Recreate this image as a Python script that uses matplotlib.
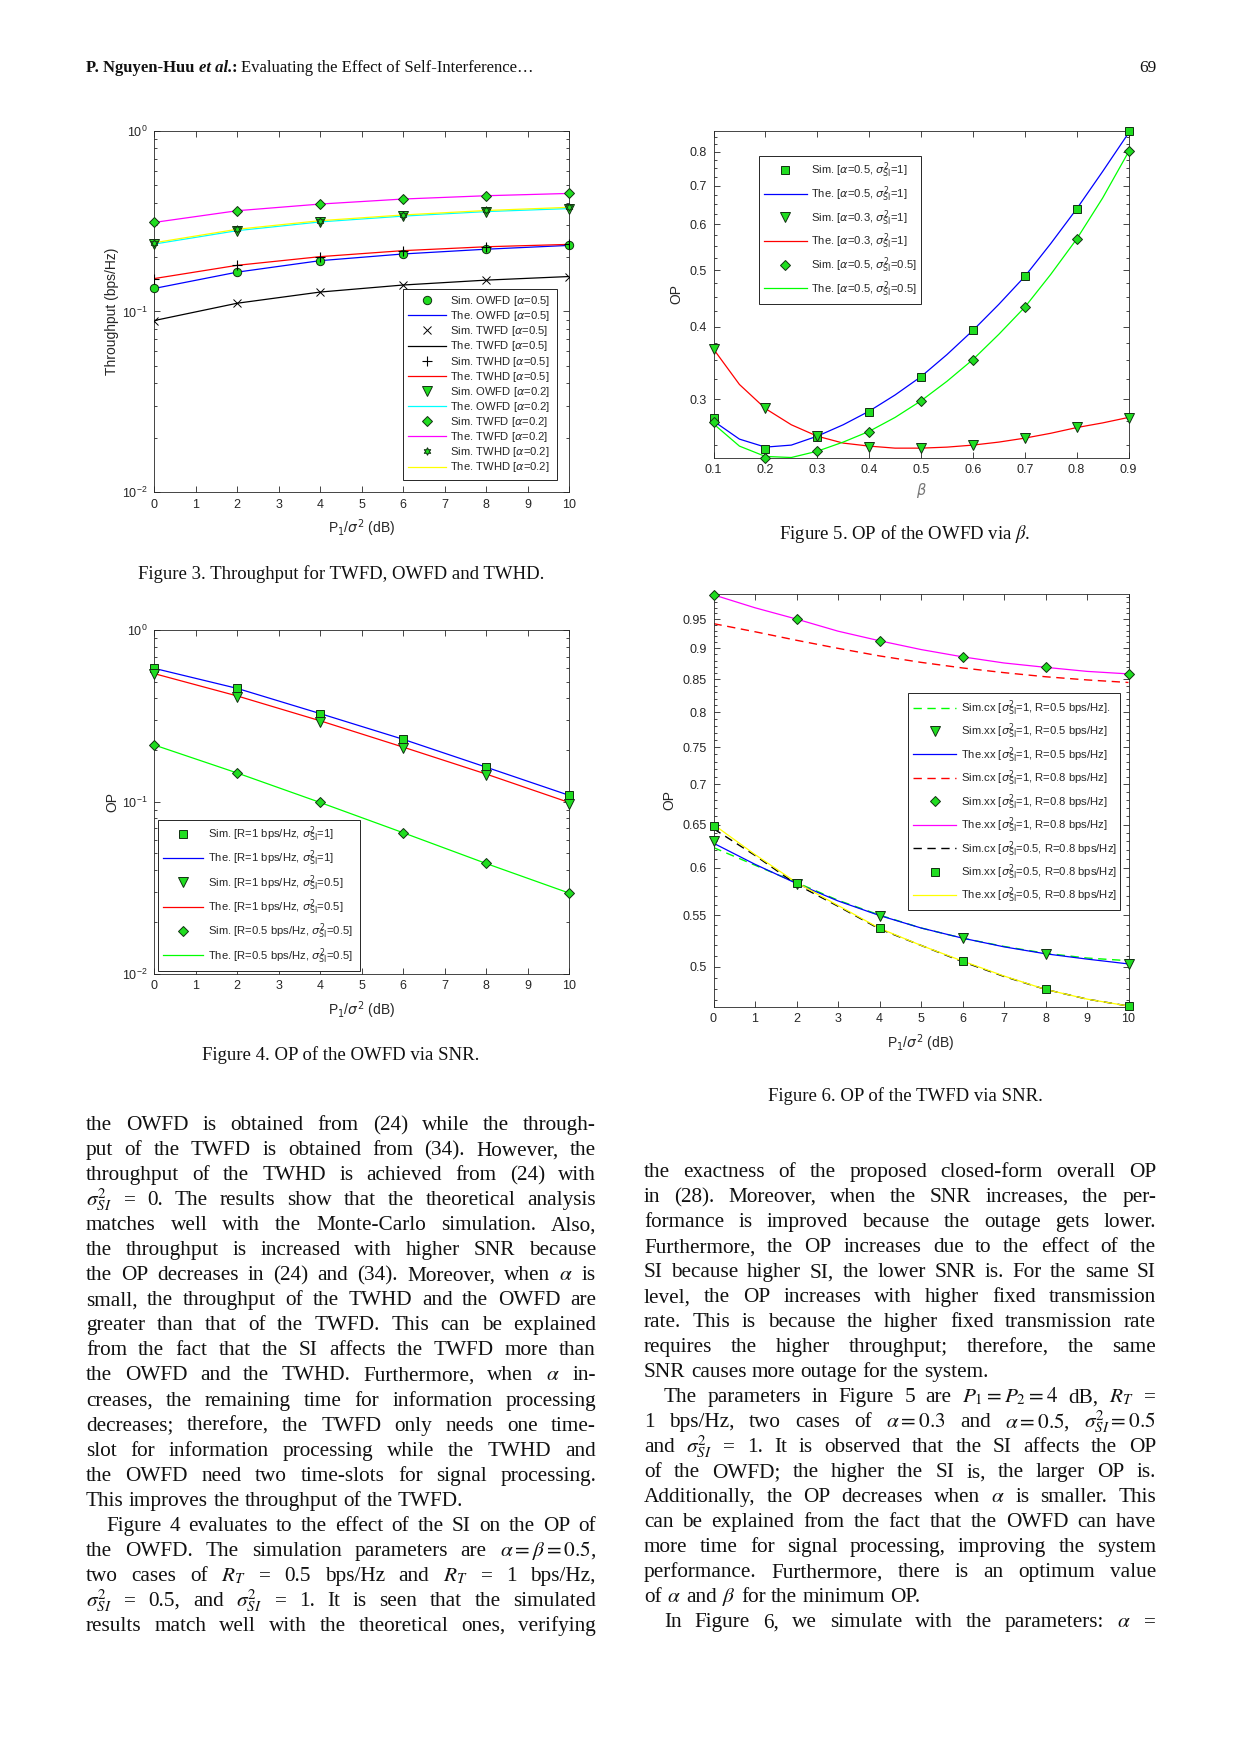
import matplotlib
matplotlib.use('Agg')
import matplotlib.pyplot as plt
from matplotlib.ticker import FixedLocator, NullFormatter, FormatStrFormatter
from matplotlib.font_manager import FontProperties

# ---- data ----
snr = [0, 2, 4, 6, 8, 10]
snr_fine = [0, 1, 2, 3, 4, 5, 6, 7, 8, 9, 10]
beta = [0.1, 0.2, 0.3, 0.4, 0.5, 0.6, 0.7, 0.8, 0.9]
beta_fine = [0.10, 0.15, 0.20, 0.25, 0.30, 0.35, 0.40, 0.45, 0.50,
             0.55, 0.60, 0.65, 0.70, 0.75, 0.80, 0.85, 0.90]

# figure 3: throughput
thr_owfd_05 = [0.134, 0.165, 0.191, 0.208, 0.221, 0.232]
thr_twfd_05 = [0.089, 0.111, 0.128, 0.140, 0.149, 0.156]
thr_twhd_05 = [0.152, 0.180, 0.201, 0.217, 0.228, 0.235]
thr_owfd_02 = [0.236, 0.280, 0.313, 0.337, 0.357, 0.371]
thr_twfd_02 = [0.311, 0.361, 0.393, 0.419, 0.437, 0.450]
thr_twhd_02 = [0.240, 0.285, 0.318, 0.342, 0.362, 0.377]

# figure 4: OP of the OWFD via SNR
op4_r1_s1 = [0.598, 0.457, 0.326, 0.231, 0.159, 0.109]
op4_r1_s05 = [0.552, 0.409, 0.292, 0.206, 0.143, 0.097]
op4_r1_s05_the = [0.557, 0.413, 0.296, 0.208, 0.145, 0.099]
op4_r05_s05 = [0.214, 0.147, 0.099, 0.066, 0.0437, 0.0294]

# figure 5: OP of the OWFD via beta
op5_sim_a05_s1 = [0.278, 0.246, 0.258, 0.285, 0.327, 0.394, 0.489, 0.638, 0.868]
op5_sim_a03_s1 = [0.366, 0.290, 0.259, 0.248, 0.247, 0.250, 0.257, 0.269, 0.278]
op5_sim_a05_s05 = [0.274, 0.238, 0.244, 0.263, 0.298, 0.351, 0.433, 0.566, 0.802]
op5_the_a05_s1 = [0.275, 0.256, 0.248, 0.250, 0.259, 0.271, 0.286, 0.305, 0.328,
                  0.358, 0.394, 0.437, 0.488, 0.556, 0.638, 0.740, 0.862]
op5_the_a03_s1 = [0.366, 0.318, 0.289, 0.271, 0.259, 0.252, 0.249, 0.247, 0.247,
                  0.248, 0.250, 0.253, 0.257, 0.262, 0.268, 0.273, 0.279]
op5_the_a05_s05 = [0.272, 0.249, 0.239, 0.238, 0.244, 0.253, 0.264, 0.279, 0.298,
                   0.322, 0.351, 0.388, 0.432, 0.492, 0.566, 0.666, 0.800]

# figure 6: OP of the TWFD via SNR
op6_cx_s1_r05 = [0.623, 0.603, 0.584, 0.5652, 0.550, 0.537, 0.527, 0.519, 0.5125, 0.508, 0.5055]
op6_sim_s1_r05 = [0.631, 0.582, 0.5495, 0.527, 0.512, 0.5025]
op6_the_s1_r05 = [0.628, 0.604, 0.583, 0.5645, 0.5495, 0.537, 0.527, 0.5186, 0.512, 0.507, 0.5025]
op6_cx_s1_r08 = [0.942, 0.928, 0.9135, 0.900, 0.8875, 0.877, 0.868, 0.8605, 0.854, 0.849, 0.845]
op6_sim_s1_r08 = [0.9935, 0.950, 0.9127, 0.886, 0.869, 0.8585]
op6_the_s1_r08 = [0.9935, 0.970, 0.950, 0.929, 0.9127, 0.898, 0.886, 0.876, 0.869, 0.8625, 0.8585]
op6_cx_s05_r08 = [0.645, 0.614, 0.582, 0.559, 0.536, 0.520, 0.5046, 0.491, 0.4794, 0.4709, 0.4649]
op6_sim_s05_r08 = [0.648, 0.584, 0.5367, 0.5052, 0.4794, 0.4649]
op6_the_s05_r08 = [0.650, 0.615, 0.584, 0.5598, 0.5367, 0.520, 0.5052, 0.4914, 0.4794, 0.4709, 0.4649]

# ---- page setup ----
plt.rcParams['font.family'] = ['Liberation Sans', 'DejaVu Sans']
plt.rcParams['mathtext.fontset'] = 'dejavusans'
W, H = 1240, 1753
fig = plt.figure(figsize=(W / 100, H / 100), dpi=100)
fig.patch.set_facecolor('white')
ink = '#262626'
serif = 'Liberation Serif'
leg_fp = FontProperties(family='Liberation Sans', size=8.1, math_fontfamily='dejavusans')
sim_kw = dict(ls='none', mfc='#20dd20', mec='#123012', mew=0.7, clip_on=False, zorder=5)


def px_axes(l, t, r, b):
    return fig.add_axes([l / W, 1 - b / H, (r - l) / W, (b - t) / H])


def style_axes(ax):
    ax.tick_params(which='both', direction='in', top=True, right=True,
                   labelsize=9, color=ink, labelcolor=ink, width=0.6)
    ax.tick_params(which='major', length=4, pad=5)
    ax.tick_params(which='minor', length=2)
    for s in ax.spines.values():
        s.set_linewidth(0.6)
        s.set_color(ink)


def px_legend(ax, handles, labels, l, t, r, spacing, ax_box, hl=3.6):
    al, at, ar, ab = ax_box
    x0 = (l - al) / (ar - al)
    y1 = (ab - t) / (ab - at)
    leg = ax.legend(handles, labels, loc='upper left', bbox_to_anchor=(x0, y1, (r - l) / (ar - al), 0),
                    mode='expand', borderaxespad=0, fancybox=False, framealpha=1,
                    edgecolor=ink, prop=leg_fp, handlelength=hl, handletextpad=0.4,
                    labelspacing=spacing, borderpad=0.45)
    leg.get_frame().set_linewidth(0.7)
    for txt in leg.get_texts():
        txt.set_color(ink)
    return leg


xlab = r'P$_1$/$\sigma^2$ (dB)'
lab_size = 10

# ---- figure 3 ----
box3 = (154.3, 130.8, 569.1, 492.0)
ax3 = px_axes(*box3)
l1, = ax3.plot(snr, thr_owfd_05, color='#0000ff', lw=0.9)
l2, = ax3.plot(snr, thr_twfd_05, color='black', lw=0.9)
l3, = ax3.plot(snr, thr_twhd_05, color='#ff0000', lw=0.9)
l4, = ax3.plot(snr, thr_owfd_02, color='#00ffff', lw=0.9)
l5, = ax3.plot(snr, thr_twfd_02, color='#ff00ff', lw=0.9)
l6, = ax3.plot(snr, thr_twhd_02, color='#ffff00', lw=0.9)
m1, = ax3.plot(snr, thr_owfd_05, marker='o', ms=6, **sim_kw)
m2, = ax3.plot(snr, thr_twfd_05, ls='none', marker='x', ms=6, color='black', mew=0.7, zorder=5)
m3, = ax3.plot(snr, thr_twhd_05, ls='none', marker='+', ms=7, color='black', mew=0.8, zorder=5)
m4, = ax3.plot(snr, thr_owfd_02, marker='v', ms=6.5, **sim_kw)
m5, = ax3.plot(snr, thr_twfd_02, marker='D', ms=5.5, **sim_kw)
m6, = ax3.plot(snr, thr_twhd_02, marker=(6, 1, 0), ms=5.5, **sim_kw)
ax3.set_yscale('log')
ax3.set_ylim(1e-2, 1)
ax3.set_xlim(0, 10)
ax3.set_xticks(range(11))
style_axes(ax3)
ax3.set_xlabel(xlab, fontsize=lab_size, color=ink, labelpad=5)
ax3.set_ylabel('Throughput (bps/Hz)', fontsize=lab_size, color=ink, labelpad=2)
labels3 = [r'Sim. OWFD [$\alpha$=0.5]', r'The. OWFD [$\alpha$=0.5]',
           r'Sim. TWFD [$\alpha$=0.5]', r'The. TWFD [$\alpha$=0.5]',
           r'Sim. TWHD [$\alpha$=0.5]', r'The. TWHD [$\alpha$=0.5]',
           r'Sim. OWFD [$\alpha$=0.2]', r'The. OWFD [$\alpha$=0.2]',
           r'Sim. TWFD [$\alpha$=0.2]', r'The. TWFD [$\alpha$=0.2]',
           r'Sim. TWHD [$\alpha$=0.2]', r'The. TWHD [$\alpha$=0.2]']
px_legend(ax3, [m1, l1, m2, l2, m3, l3, m4, l4, m5, l5, m6, l6], labels3,
          402.5, 289.0, 557.0, 0.1, box3, hl=3.4)

# ---- figure 4 ----
box4 = (154.3, 630.0, 569.1, 973.5)
ax4 = px_axes(*box4)
n1, = ax4.plot(snr, op4_r1_s1, color='#0000ff', lw=0.9)
n2, = ax4.plot(snr, op4_r1_s05_the, color='#ff0000', lw=0.9)
n3, = ax4.plot(snr, op4_r05_s05, color='#00ff00', lw=0.9)
q1, = ax4.plot(snr, op4_r1_s1, marker='s', ms=5.5, **sim_kw)
q2, = ax4.plot(snr, op4_r1_s05, marker='v', ms=6.5, **sim_kw)
q3, = ax4.plot(snr, op4_r05_s05, marker='D', ms=5.5, **sim_kw)
ax4.set_yscale('log')
ax4.set_ylim(1e-2, 1)
ax4.set_xlim(0, 10)
ax4.set_xticks(range(11))
style_axes(ax4)
ax4.set_xlabel(xlab, fontsize=lab_size, color=ink, labelpad=5)
ax4.set_ylabel('OP', fontsize=lab_size, color=ink, labelpad=2)
labels4 = [r'Sim. [R=1 bps/Hz, $\sigma^2_{\rm SI}$=1]', r'The. [R=1 bps/Hz, $\sigma^2_{\rm SI}$=1]',
           r'Sim. [R=1 bps/Hz, $\sigma^2_{\rm SI}$=0.5]', r'The. [R=1 bps/Hz, $\sigma^2_{\rm SI}$=0.5]',
           r'Sim. [R=0.5 bps/Hz, $\sigma^2_{\rm SI}$=0.5]', r'The. [R=0.5 bps/Hz, $\sigma^2_{\rm SI}$=0.5]']
px_legend(ax4, [q1, n1, q2, n2, q3, n3], labels4, 157.5, 819.5, 360.0, 0.42, box4)

# ---- figure 5 ----
box5 = (713.5, 130.8, 1128.5, 457.5)
ax5 = px_axes(*box5)
b1, = ax5.plot(beta_fine, op5_the_a05_s1, color='#0000ff', lw=0.9)
b2, = ax5.plot(beta_fine, op5_the_a03_s1, color='#ff0000', lw=0.9)
b3, = ax5.plot(beta_fine, op5_the_a05_s05, color='#00ff00', lw=0.9)
s1, = ax5.plot(beta, op5_sim_a05_s1, marker='s', ms=5.5, **sim_kw)
s2, = ax5.plot(beta, op5_sim_a03_s1, marker='v', ms=6.5, **sim_kw)
s3, = ax5.plot(beta, op5_sim_a05_s05, marker='D', ms=5.5, **sim_kw)
ax5.set_yscale('log')
ax5.set_ylim(0.238, 0.87)
ax5.set_xlim(0.1, 0.9)
ax5.yaxis.set_major_locator(FixedLocator([0.3, 0.4, 0.5, 0.6, 0.7, 0.8]))
ax5.yaxis.set_major_formatter(FormatStrFormatter('%g'))
ax5.yaxis.set_minor_locator(FixedLocator([0.25, 0.275, 0.325, 0.35, 0.375, 0.425, 0.45, 0.475,
                                          0.525, 0.55, 0.575, 0.625, 0.65, 0.675, 0.725,
                                          0.75, 0.775, 0.825, 0.85]))
ax5.yaxis.set_minor_formatter(NullFormatter())
ax5.set_xticks(beta)
ax5.xaxis.set_major_formatter(FormatStrFormatter('%g'))
style_axes(ax5)
ax5.set_xlabel(r'$\beta$', fontsize=10.5, color='#777777', labelpad=3)
ax5.set_ylabel('OP', fontsize=lab_size, color=ink, labelpad=4)
labels5 = [r'Sim. [$\alpha$=0.5, $\sigma^2_{\rm SI}$=1]', r'The. [$\alpha$=0.5, $\sigma^2_{\rm SI}$=1]',
           r'Sim. [$\alpha$=0.3, $\sigma^2_{\rm SI}$=1]', r'The. [$\alpha$=0.3, $\sigma^2_{\rm SI}$=1]',
           r'Sim. [$\alpha$=0.5, $\sigma^2_{\rm SI}$=0.5]', r'The. [$\alpha$=0.5, $\sigma^2_{\rm SI}$=0.5]']
px_legend(ax5, [s1, b1, s2, b2, s3, b3], labels5, 758.7, 155.7, 921.0, 0.36, box5, hl=3.8)

# ---- figure 6 ----
box6 = (713.5, 594.0, 1128.5, 1006.5)
ax6 = px_axes(*box6)
c1, = ax6.plot(snr_fine, op6_cx_s1_r05, color='#00ff00', lw=1.0, dashes=(6, 4))
t1, = ax6.plot(snr_fine, op6_the_s1_r05, color='#0000ff', lw=0.9)
c2, = ax6.plot(snr_fine, op6_cx_s1_r08, color='#ff0000', lw=1.0, dashes=(6, 4))
t2, = ax6.plot(snr_fine, op6_the_s1_r08, color='#ff00ff', lw=0.9)
c3, = ax6.plot(snr_fine, op6_cx_s05_r08, color='black', lw=1.0, dashes=(6, 4))
t3, = ax6.plot(snr_fine, op6_the_s05_r08, color='#ffff00', lw=0.9)
p1, = ax6.plot(snr, op6_sim_s1_r05, marker='v', ms=6.5, **sim_kw)
p2, = ax6.plot(snr, op6_sim_s1_r08, marker='D', ms=5.5, **sim_kw)
p3, = ax6.plot(snr, op6_sim_s05_r08, marker='s', ms=5.5, **sim_kw)
ax6.set_yscale('log')
ax6.set_ylim(0.4645, 0.995)
ax6.set_xlim(0, 10)
ax6.set_xticks(range(11))
ax6.yaxis.set_major_locator(FixedLocator([0.5, 0.55, 0.6, 0.65, 0.7, 0.75, 0.8, 0.85, 0.9, 0.95]))
ax6.yaxis.set_major_formatter(FormatStrFormatter('%g'))
ax6.yaxis.set_minor_locator(FixedLocator([v / 100 for v in range(47, 100) if v % 5]))
ax6.yaxis.set_minor_formatter(NullFormatter())
style_axes(ax6)
ax6.set_xlabel(xlab, fontsize=lab_size, color=ink, labelpad=5)
ax6.set_ylabel('OP', fontsize=lab_size, color=ink, labelpad=4)
labels6 = [r'Sim.cx [$\sigma^2_{\rm SI}$=1, R=0.5 bps/Hz].', r'Sim.xx [$\sigma^2_{\rm SI}$=1, R=0.5 bps/Hz]',
           r'The.xx [$\sigma^2_{\rm SI}$=1, R=0.5 bps/Hz]', r'Sim.cx [$\sigma^2_{\rm SI}$=1, R=0.8 bps/Hz]',
           r'Sim.xx [$\sigma^2_{\rm SI}$=1, R=0.8 bps/Hz]', r'The.xx [$\sigma^2_{\rm SI}$=1, R=0.8 bps/Hz]',
           r'Sim.cx [$\sigma^2_{\rm SI}$=0.5, R=0.8 bps/Hz]', r'Sim.xx [$\sigma^2_{\rm SI}$=0.5, R=0.8 bps/Hz]',
           r'The.xx [$\sigma^2_{\rm SI}$=0.5, R=0.8 bps/Hz]']
px_legend(ax6, [c1, p1, t1, c2, p2, t2, c3, p3, t3], labels6, 907.5, 693.3, 1119.5, 0.34, box6, hl=3.9)

# ---- page text ----
rend = fig.canvas.get_renderer()
body_size = 15.3


def put(x, y, s, **kw):
    kw.setdefault('family', serif)
    kw.setdefault('math_fontfamily', 'stix')
    return fig.text(x / W, 1 - y / H, s, va='baseline', **kw)


def text_line(x0, x1, y, s, justify=True, size=body_size):
    words = s.split(' ')
    arts = [put(0, y, w, fontsize=size, color='#111111') for w in words]
    ws = [a.get_window_extent(rend).width for a in arts]
    if justify and len(words) > 1:
        gap = (x1 - x0 - sum(ws)) / (len(words) - 1)
    else:
        gap = size * 100 / 72 * 0.25
    x = x0
    for a, w in zip(arts, ws):
        a.set_x(x / W)
        x += w + gap


# header
hx = 86
for piece, wt, st in [('P. Nguyen-Huu', 'bold', 'normal'), ('et al.', 'bold', 'italic'),
                      (':', 'bold', 'normal'), ('Evaluating the Effect of Self-Interference\u2026', 'normal', 'normal')]:
    t = put(hx, 72, piece, fontsize=12, weight=wt, style=st, color='#111111')
    hx += t.get_window_extent(rend).width + (0 if piece == 'et al.' else 4)
put(1156, 72, '69', fontsize=12.5, ha='right', color='#111111')

# captions
put(341, 579, 'Figure 3. Throughput for TWFD, OWFD and TWHD.', fontsize=13.5, ha='center', color='#111111')
put(341, 1060, 'Figure 4. OP of the OWFD via SNR.', fontsize=13.5, ha='center', color='#111111')
put(905, 539, r'Figure 5. OP of the OWFD via $\beta$.', fontsize=13.5, ha='center', color='#111111')
put(905, 1101, 'Figure 6. OP of the TWFD via SNR.', fontsize=13.5, ha='center', color='#111111')

left_col = [
    ('the OWFD is obtained from (24) while the through-', 0, True),
    ('put of the TWFD is obtained from (34). However, the', 0, True),
    ('throughput of the TWHD is achieved from (24) with', 0, True),
    (r'$\sigma^2_{SI}$ = 0. The results show that the theoretical analysis', 0, True),
    ('matches well with the Monte-Carlo simulation. Also,', 0, True),
    ('the throughput is increased with higher SNR because', 0, True),
    (r'the OP decreases in (24) and (34). Moreover, when $\alpha$ is', 0, True),
    ('small, the throughput of the TWHD and the OWFD are', 0, True),
    ('greater than that of the TWFD. This can be explained', 0, True),
    ('from the fact that the SI affects the TWFD more than', 0, True),
    (r'the OWFD and the TWHD. Furthermore, when $\alpha$ in-', 0, True),
    ('creases, the remaining time for information processing', 0, True),
    ('decreases; therefore, the TWFD only needs one time-', 0, True),
    ('slot for information processing while the TWHD and', 0, True),
    ('the OWFD need two time-slots for signal processing.', 0, True),
    ('This improves the throughput of the TWFD.', 0, False),
    ('Figure 4 evaluates to the effect of the SI on the OP of', 20, True),
    (r'the OWFD. The simulation parameters are $\alpha=\beta=0.5$,', 0, True),
    (r'two cases of $R_T$ = 0.5 bps/Hz and $R_T$ = 1 bps/Hz,', 0, True),
    (r'$\sigma^2_{SI}$ = 0.5, and $\sigma^2_{SI}$ = 1. It is seen that the simulated', 0, True),
    ('results match well with the theoretical ones, verifying', 0, True),
]
right_col = [
    ('the exactness of the proposed closed-form overall OP', 0, True),
    ('in (28). Moreover, when the SNR increases, the per-', 0, True),
    ('formance is improved because the outage gets lower.', 0, True),
    ('Furthermore, the OP increases due to the effect of the', 0, True),
    ('SI because higher SI, the lower SNR is. For the same SI', 0, True),
    ('level, the OP increases with higher fixed transmission', 0, True),
    ('rate. This is because the higher fixed transmission rate', 0, True),
    ('requires the higher throughput; therefore, the same', 0, True),
    ('SNR causes more outage for the system.', 0, False),
    (r'The parameters in Figure 5 are $P_1=P_2=4$ dB, $R_T$ =', 20, True),
    (r'1 bps/Hz, two cases of $\alpha=0.3$ and $\alpha=0.5$, $\sigma^2_{SI}=0.5$', 0, True),
    (r'and $\sigma^2_{SI}$ = 1. It is observed that the SI affects the OP', 0, True),
    ('of the OWFD; the higher the SI is, the larger OP is.', 0, True),
    (r'Additionally, the OP decreases when $\alpha$ is smaller. This', 0, True),
    ('can be explained from the fact that the OWFD can have', 0, True),
    ('more time for signal processing, improving the system', 0, True),
    ('performance. Furthermore, there is an optimum value', 0, True),
    (r'of $\alpha$ and $\beta$ for the minimum OP.', 0, False),
    (r'In Figure 6, we simulate with the parameters: $\alpha$ =', 20, True),
]

for i, (s, ind, just) in enumerate(left_col):
    text_line(86 + ind, 596, 1130 + 25.05 * i, s, just)
for i, (s, ind, just) in enumerate(right_col):
    text_line(644 + ind, 1156, 1177 + 25.02 * i, s, just)

fig.savefig('out.png', dpi=100, facecolor='white')
